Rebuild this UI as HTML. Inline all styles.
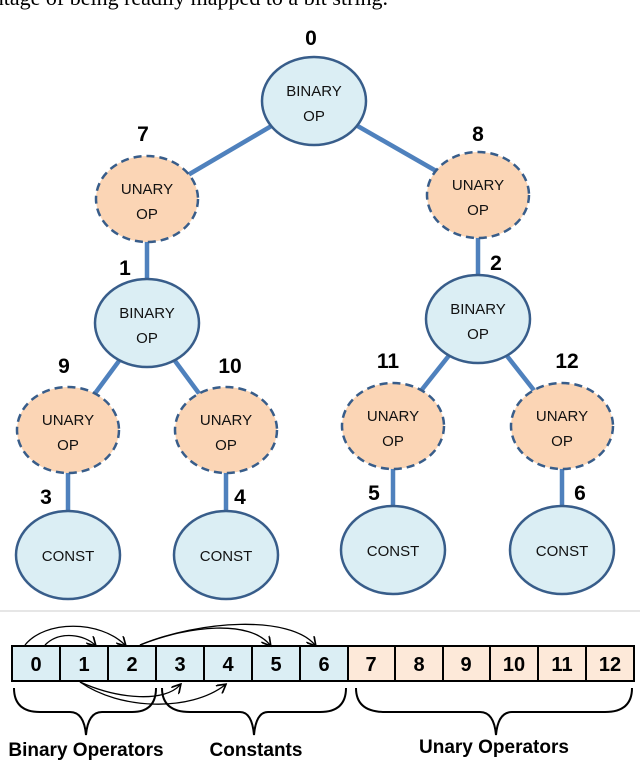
<!DOCTYPE html>
<html><head><meta charset="utf-8"><style>
html,body{margin:0;padding:0;background:#fff;}
body{width:640px;height:766px;overflow:hidden;position:relative;}
svg{position:absolute;left:0;top:0;}
.n{font-family:"Liberation Sans",sans-serif;font-size:15px;fill:#111;text-anchor:middle;}
.l{font-family:"Liberation Sans",sans-serif;font-size:21px;font-weight:bold;fill:#000;text-anchor:middle;}
.c{font-family:"Liberation Sans",sans-serif;font-size:20px;font-weight:bold;fill:#000;text-anchor:middle;}
.b{font-family:"Liberation Sans",sans-serif;font-size:19px;font-weight:bold;fill:#000;text-anchor:middle;}
</style></head><body>
<svg width="640" height="766" viewBox="0 0 640 766">
<text x="180" y="5" font-family="Liberation Serif,serif" font-size="22" fill="#000" text-anchor="middle">vantage of being readily mapped to a bit string.</text>
<!-- edges -->
<g stroke="#4f81bd" stroke-width="4.5">
<line x1="314" y1="101" x2="147" y2="199"/>
<line x1="314" y1="101" x2="478" y2="195"/>
<line x1="147" y1="199" x2="147" y2="323"/>
<line x1="478" y1="195" x2="478" y2="319"/>
<line x1="147" y1="323" x2="68" y2="430"/>
<line x1="147" y1="323" x2="226" y2="430"/>
<line x1="478" y1="319" x2="393" y2="426"/>
<line x1="478" y1="319" x2="562" y2="426"/>
<line x1="68" y1="430" x2="68" y2="555"/>
<line x1="226" y1="430" x2="226" y2="555"/>
<line x1="393" y1="426" x2="393" y2="550"/>
<line x1="562" y1="426" x2="562" y2="550"/>
</g>
<!-- binary nodes -->
<g fill="#dbeef4" stroke="#385d8a" stroke-width="2.5">
<ellipse cx="314" cy="101" rx="52" ry="44"/>
<ellipse cx="147" cy="323" rx="52" ry="44"/>
<ellipse cx="478" cy="319" rx="52" ry="44"/>
<ellipse cx="68" cy="555" rx="52" ry="44"/>
<ellipse cx="226" cy="555" rx="52" ry="44"/>
<ellipse cx="393" cy="550" rx="52" ry="44"/>
<ellipse cx="562" cy="550" rx="52" ry="44"/>
</g>
<g fill="#fbd5b5" stroke="#385d8a" stroke-width="2.5" stroke-dasharray="8,5">
<ellipse cx="147" cy="199" rx="51" ry="43"/>
<ellipse cx="478" cy="195" rx="51" ry="43"/>
<ellipse cx="68" cy="430" rx="51" ry="43"/>
<ellipse cx="226" cy="430" rx="51" ry="43"/>
<ellipse cx="393" cy="426" rx="51" ry="43"/>
<ellipse cx="562" cy="426" rx="51" ry="43"/>
</g>
<g class="n">
<text class="n" x="314" y="96">BINARY</text><text class="n" x="314" y="121">OP</text>
<text class="n" x="147" y="318">BINARY</text><text class="n" x="147" y="343">OP</text>
<text class="n" x="478" y="314">BINARY</text><text class="n" x="478" y="339">OP</text>
<text class="n" x="147" y="194">UNARY</text><text class="n" x="147" y="219">OP</text>
<text class="n" x="478" y="190">UNARY</text><text class="n" x="478" y="215">OP</text>
<text class="n" x="68" y="425">UNARY</text><text class="n" x="68" y="450">OP</text>
<text class="n" x="226" y="425">UNARY</text><text class="n" x="226" y="450">OP</text>
<text class="n" x="393" y="421">UNARY</text><text class="n" x="393" y="446">OP</text>
<text class="n" x="562" y="421">UNARY</text><text class="n" x="562" y="446">OP</text>
<text class="n" x="68" y="561">CONST</text>
<text class="n" x="226" y="561">CONST</text>
<text class="n" x="393" y="556">CONST</text>
<text class="n" x="562" y="556">CONST</text>
</g>
<text class="l" x="311" y="45">0</text>
<text class="l" x="143" y="141">7</text>
<text class="l" x="478" y="141">8</text>
<text class="l" x="125" y="275">1</text>
<text class="l" x="496" y="270">2</text>
<text class="l" x="64" y="373">9</text>
<text class="l" x="230" y="373">10</text>
<text class="l" x="388" y="368">11</text>
<text class="l" x="567" y="368">12</text>
<text class="l" x="46" y="504">3</text>
<text class="l" x="240" y="504">4</text>
<text class="l" x="374" y="500">5</text>
<text class="l" x="580" y="500">6</text>
<line x1="0" y1="611" x2="640" y2="611" stroke="#e6e6e6" stroke-width="2"/>
<!-- array -->
<rect x="12" y="646" width="336" height="35" fill="#dbeef4"/>
<rect x="348" y="646" width="286" height="35" fill="#fde9d9"/>
<g stroke="#000" stroke-width="2" fill="none">
<rect x="12" y="646" width="622" height="35"/>
<line x1="60" y1="646" x2="60" y2="681"/><line x1="108" y1="646" x2="108" y2="681"/>
<line x1="156" y1="646" x2="156" y2="681"/><line x1="204" y1="646" x2="204" y2="681"/>
<line x1="252" y1="646" x2="252" y2="681"/><line x1="300" y1="646" x2="300" y2="681"/>
<line x1="348" y1="646" x2="348" y2="681"/><line x1="395" y1="646" x2="395" y2="681"/>
<line x1="443" y1="646" x2="443" y2="681"/><line x1="490" y1="646" x2="490" y2="681"/>
<line x1="538" y1="646" x2="538" y2="681"/><line x1="586" y1="646" x2="586" y2="681"/>
</g>
<g class="c">
<text class="c" x="36" y="671">0</text><text class="c" x="84" y="671">1</text><text class="c" x="132" y="671">2</text>
<text class="c" x="180" y="671">3</text><text class="c" x="228" y="671">4</text><text class="c" x="276" y="671">5</text>
<text class="c" x="324" y="671">6</text><text class="c" x="371" y="671">7</text><text class="c" x="419" y="671">8</text>
<text class="c" x="466" y="671">9</text><text class="c" x="514" y="671">10</text><text class="c" x="562" y="671">11</text>
<text class="c" x="610" y="671">12</text>
</g>
<defs><marker id="a" markerWidth="8" markerHeight="8" refX="6" refY="4" orient="auto"><path d="M0,0 L7,4 L0,8" fill="none" stroke="#000" stroke-width="1.3"/></marker></defs>
<g stroke="#000" stroke-width="1.3" fill="none" marker-end="url(#a)">
<path d="M25,645 C45,620 100,620 125,645"/>
<path d="M45,645 C60,630 85,635 95,645"/>
<path d="M140,645 C190,625 250,620 270,645"/>
<path d="M140,645 C200,620 290,615 315,645"/>
<path d="M80,682 C120,700 165,702 180,685"/>
<path d="M80,682 C120,710 190,712 225,685"/>
</g>
<g stroke="#000" stroke-width="2" fill="none">
<path d="M14,688 Q14,712 40,712 L70,712 Q84,712 86,735 Q88,712 102,712 L132,712 Q156,712 156,688"/>
<path d="M162,688 Q162,712 190,712 L240,712 Q252,712 254,735 Q256,712 268,712 L320,712 Q346,712 346,688"/>
<path d="M356,688 Q356,712 385,712 L480,712 Q494,712 496,735 Q498,712 512,712 L605,712 Q632,712 632,688"/>
</g>
<text class="b" x="86" y="756">Binary Operators</text>
<text class="b" x="256" y="756">Constants</text>
<text class="b" x="494" y="753">Unary Operators</text>
</svg>
</body></html>
